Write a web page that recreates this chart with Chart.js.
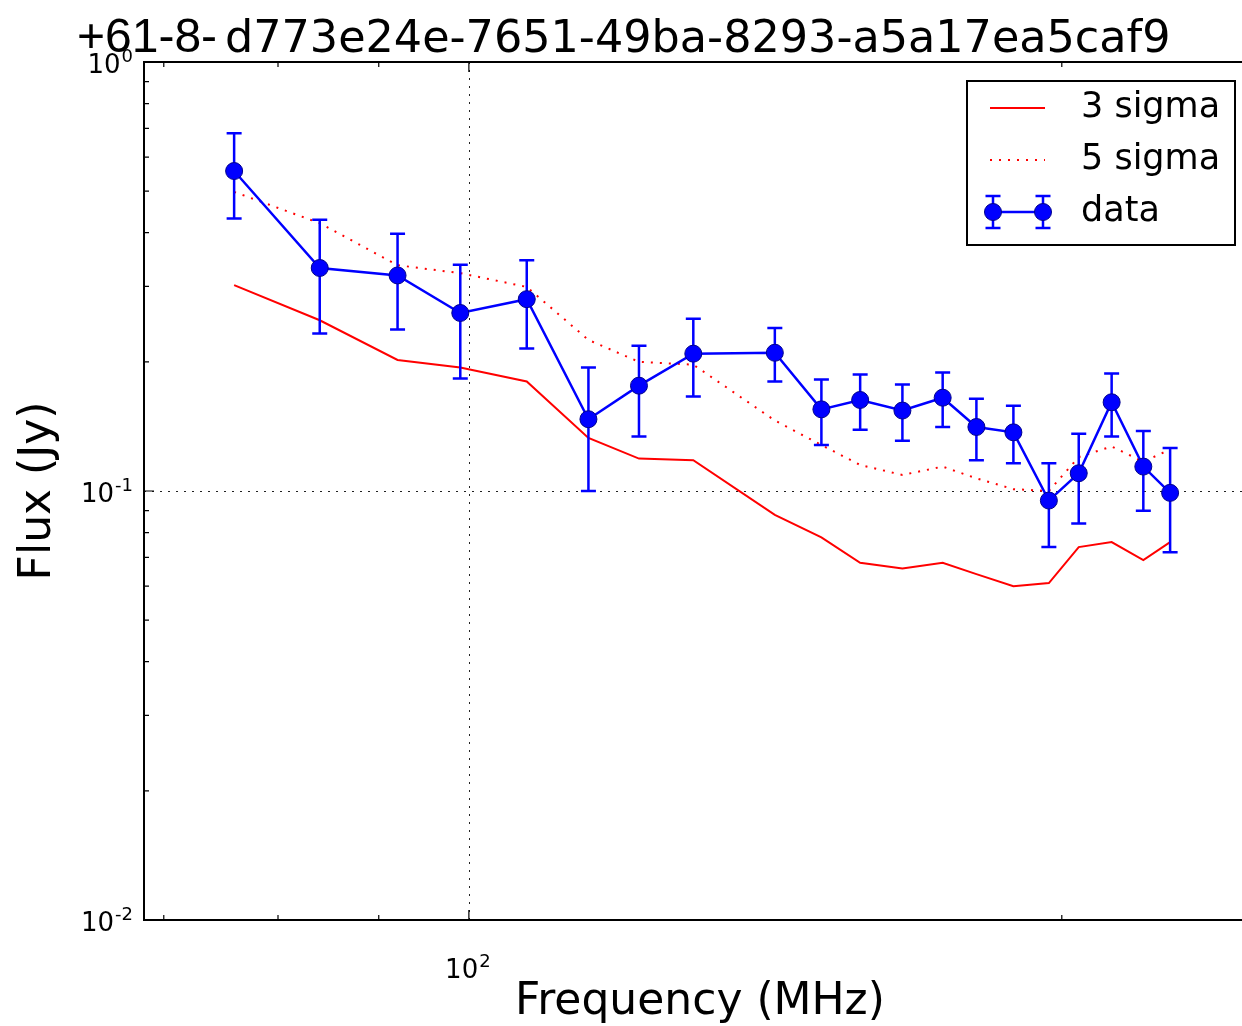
<!DOCTYPE html>
<html>
<head>
<meta charset="utf-8">
<script src="https://cdn.jsdelivr.net/npm/chart.js@4.4.1/dist/chart.umd.min.js"></script>
<style>
  html, body { margin: 0; padding: 0; background: #fff; overflow: hidden; }
  #wrap { width: 1242px; height: 1026px; }
</style>
</head>
<body>
<div id="wrap"><canvas id="myChart" width="1242" height="1026"></canvas></div>
<script>
// frequencies (MHz) and measured flux (Jy)
const freqs = [76, 84, 92, 99, 107, 115, 122, 130, 143, 151, 158, 166, 174, 181, 189, 197, 204, 212, 220, 227];
const flux = [0.557, 0.331, 0.318, 0.260, 0.280, 0.147, 0.176, 0.209, 0.210, 0.155, 0.163, 0.154, 0.165, 0.141, 0.137, 0.095, 0.110, 0.161, 0.114, 0.099];
const fluxErr = [0.125, 0.098, 0.080, 0.077, 0.065, 0.047, 0.042, 0.043, 0.030, 0.027, 0.024, 0.023, 0.024, 0.023, 0.021, 0.021, 0.026, 0.027, 0.024, 0.027];
const sigma3 = [0.302, 0.250, 0.202, 0.194, 0.180, 0.133, 0.119, 0.118, 0.088, 0.078, 0.068, 0.066, 0.068, 0.064, 0.060, 0.061, 0.074, 0.076, 0.069, 0.076];
const sigma5 = [0.498, 0.421, 0.336, 0.322, 0.299, 0.225, 0.200, 0.197, 0.146, 0.128, 0.115, 0.109, 0.114, 0.107, 0.101, 0.100, 0.120, 0.127, 0.117, 0.125];

// axis ticks
const yMajor = [0.01, 0.1, 1];
const yLabels = ['-2', '-1', '0'];
const xMajor = [100];
const xLabels = ['2'];
const xMinor = [70, 80, 90, 200];

const titleLeft = '+61-8-';
const titleRight = 'd773e24e-7651-49ba-8293-a5a17ea5caf9';
const legendNames = ['3 sigma', '5 sigma', 'data'];

const FONT = '"DejaVu Sans", sans-serif';

function pts(ys) {
  return freqs.map((f, i) => ({ x: f, y: ys[i] }));
}

function yMinor() {
  let out = [];
  [0.01, 0.1].forEach(d => {
    for (let k = 2; k <= 9; k++) out.push(d * k);
  });
  return out;
}

// "10" with superscript exponent
function drawPow(ctx, exp, x, y, align) {
  ctx.save();
  ctx.fillStyle = '#000';
  ctx.textBaseline = 'alphabetic';
  ctx.font = '26px ' + FONT;
  const wb = ctx.measureText('10').width;
  ctx.font = '18px ' + FONT;
  const we = ctx.measureText(exp).width;
  let x0 = x;
  if (align == 'right') x0 = x - wb - we - 1;
  if (align == 'center') x0 = x - (wb + we + 1) / 2;
  ctx.font = '26px ' + FONT;
  ctx.fillText('10', x0, y);
  ctx.font = '18px ' + FONT;
  ctx.fillText(exp, x0 + wb + 1, y - 11);
  ctx.restore();
}

function errBar(ctx, x, yTop, yBot, cap) {
  ctx.beginPath();
  ctx.moveTo(x, yTop); ctx.lineTo(x, yBot);
  ctx.moveTo(x - cap, yTop); ctx.lineTo(x + cap, yTop);
  ctx.moveTo(x - cap, yBot); ctx.lineTo(x + cap, yBot);
  ctx.stroke();
}

const decor = {
  id: 'decor',
  beforeDatasetsDraw(chart) {
    const { ctx, chartArea: a, scales: { x, y } } = chart;
    ctx.save();
    ctx.strokeStyle = '#222';
    ctx.lineWidth = 1;
    ctx.setLineDash([2, 6]);
    xMajor.forEach(v => {
      const px = Math.round(x.getPixelForValue(v)) + 0.5;
      ctx.beginPath(); ctx.moveTo(px, a.top); ctx.lineTo(px, a.bottom); ctx.stroke();
    });
    yMajor.forEach(v => {
      const py = Math.round(y.getPixelForValue(v)) + 0.5;
      ctx.beginPath(); ctx.moveTo(a.left, py); ctx.lineTo(a.right, py); ctx.stroke();
    });
    ctx.restore();
  },
  beforeDatasetDraw(chart, args) {
    if (args.index !== 2) return;
    const { ctx, scales: { x, y } } = chart;
    ctx.save();
    ctx.strokeStyle = '#0000ff';
    ctx.lineWidth = 2.5;
    freqs.forEach((f, i) => {
      const px = x.getPixelForValue(f);
      errBar(ctx, px, y.getPixelForValue(flux[i] + fluxErr[i]), y.getPixelForValue(flux[i] - fluxErr[i]), 7.5);
    });
    ctx.restore();
  },
  afterDraw(chart) {
    const { ctx, chartArea: a, scales: { x, y } } = chart;
    ctx.save();
    // axes frame (right side is outside the picture)
    ctx.strokeStyle = '#000';
    ctx.lineWidth = 2;
    ctx.beginPath();
    ctx.moveTo(a.right + 2, a.top); ctx.lineTo(a.left, a.top);
    ctx.lineTo(a.left, a.bottom); ctx.lineTo(a.right + 2, a.bottom);
    ctx.stroke();

    // ticks pointing inwards
    ctx.lineWidth = 1.2;
    ctx.beginPath();
    yMajor.forEach(v => {
      const py = y.getPixelForValue(v);
      ctx.moveTo(a.left, py); ctx.lineTo(a.left + 10, py);
    });
    yMinor().forEach(v => {
      const py = y.getPixelForValue(v);
      ctx.moveTo(a.left, py); ctx.lineTo(a.left + 5, py);
    });
    xMajor.forEach(v => {
      const px = x.getPixelForValue(v);
      ctx.moveTo(px, a.bottom); ctx.lineTo(px, a.bottom - 10);
      ctx.moveTo(px, a.top); ctx.lineTo(px, a.top + 10);
    });
    xMinor.forEach(v => {
      const px = x.getPixelForValue(v);
      ctx.moveTo(px, a.bottom); ctx.lineTo(px, a.bottom - 5);
      ctx.moveTo(px, a.top); ctx.lineTo(px, a.top + 5);
    });
    ctx.stroke();

    // tick labels
    yMajor.forEach((v, i) => {
      drawPow(ctx, yLabels[i], 133, y.getPixelForValue(v) + 11, 'right');
    });
    xMajor.forEach((v, i) => {
      drawPow(ctx, xLabels[i], x.getPixelForValue(v) - 1, 978, 'center');
    });

    // axis titles
    ctx.fillStyle = '#000';
    ctx.font = '44px ' + FONT;
    ctx.textAlign = 'center';
    ctx.textBaseline = 'alphabetic';
    ctx.fillText('Frequency (MHz)', 700, 1014);
    ctx.save();
    ctx.translate(50, 491);
    ctx.rotate(-Math.PI / 2);
    ctx.fillText('Flux (Jy)', 0, 0);
    ctx.restore();

    // title in two pieces
    ctx.textAlign = 'left';
    ctx.font = '48px "Liberation Sans", Arial, sans-serif';
    ctx.fillText(titleLeft, 77, 52);
    ctx.font = '44.5px ' + FONT;
    ctx.fillText(titleRight, 225, 52);

    // legend
    ctx.fillStyle = '#fff';
    ctx.fillRect(967, 81, 268, 164);
    ctx.strokeStyle = '#000';
    ctx.lineWidth = 2;
    ctx.strokeRect(967, 81, 268, 164);

    ctx.strokeStyle = '#ff0000';
    ctx.lineWidth = 2;
    ctx.beginPath(); ctx.moveTo(990, 108); ctx.lineTo(1045, 108); ctx.stroke();
    ctx.setLineDash([2, 7]);
    ctx.beginPath(); ctx.moveTo(990, 160); ctx.lineTo(1045, 160); ctx.stroke();
    ctx.setLineDash([]);

    ctx.strokeStyle = '#0000ff';
    ctx.lineWidth = 2.5;
    ctx.beginPath(); ctx.moveTo(993, 212); ctx.lineTo(1043, 212); ctx.stroke();
    errBar(ctx, 993, 196, 228, 7.5);
    errBar(ctx, 1043, 196, 228, 7.5);
    ctx.fillStyle = '#0000ff';
    ctx.strokeStyle = '#00008b';
    ctx.lineWidth = 1;
    [993, 1043].forEach(cx => {
      ctx.beginPath(); ctx.arc(cx, 212, 8.5, 0, Math.PI * 2); ctx.fill(); ctx.stroke();
    });

    ctx.fillStyle = '#000';
    ctx.font = '35px ' + FONT;
    ctx.textBaseline = 'middle';
    ctx.fillText(legendNames[0], 1081, 108);
    ctx.fillText(legendNames[1], 1081, 160);
    ctx.fillText(legendNames[2], 1081, 212);
    ctx.restore();
  }
};

const ctx = document.getElementById('myChart').getContext('2d');
const myChart = new Chart(ctx, {
  type: 'line',
  data: {
    datasets: [
      {
        label: legendNames[0],
        data: pts(sigma3),
        borderColor: '#ff0000',
        borderWidth: 2,
        pointRadius: 0,
        fill: false,
        tension: 0,
        order: 3
      },
      {
        label: legendNames[1],
        data: pts(sigma5),
        borderColor: '#ff0000',
        borderWidth: 2,
        borderDash: [2, 7],
        pointRadius: 0,
        fill: false,
        tension: 0,
        order: 2
      },
      {
        label: legendNames[2],
        data: pts(flux),
        borderColor: '#0000ff',
        borderWidth: 2.5,
        pointRadius: 8.5,
        pointBackgroundColor: '#0000ff',
        pointBorderColor: '#00008b',
        pointBorderWidth: 1,
        fill: false,
        tension: 0,
        order: 1
      }
    ]
  },
  options: {
    responsive: false,
    animation: false,
    layout: { autoPadding: false, padding: { left: 144, top: 62, right: 0, bottom: 106 } },
    scales: {
      x: { type: 'logarithmic', min: 68.4, max: 246.9, display: false },
      y: { type: 'logarithmic', min: 0.01, max: 1, display: false }
    },
    plugins: {
      legend: { display: false },
      title: { display: false },
      tooltip: { enabled: false }
    }
  },
  plugins: [decor]
});
</script>
</body>
</html>
